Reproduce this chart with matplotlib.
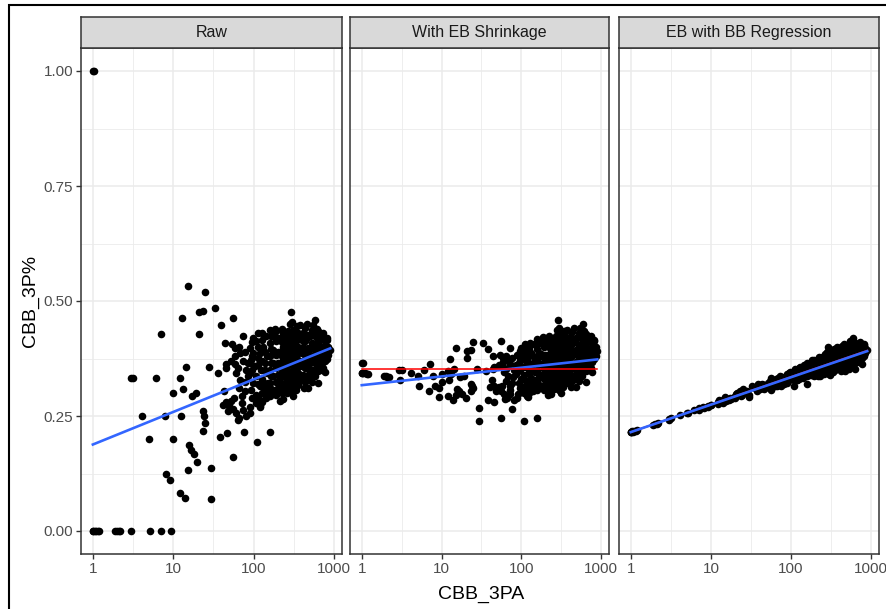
import numpy as np
import matplotlib
matplotlib.use("Agg")
import matplotlib.pyplot as plt
from matplotlib.patches import Rectangle

plt.rcParams["font.family"] = ["Liberation Sans", "DejaVu Sans"]

# fringe players: few attempts, scattered values
x_fringe = [1, 1, 1.05, 1.1, 1.15, 1.2, 1, 1.04, 1.9, 2, 2.1, 2.2, 3, 5.2, 7, 9.3,
            2.96, 3.16, 4.1, 5, 6.1, 7.1, 7.9, 8.2, 9.2, 10, 10,
            12.2, 12.3, 12.1, 12.7, 13.1, 14.4, 14.1, 15.1, 15.3, 15.8,
            16.6, 17.1, 18, 19.2, 20, 20.8, 21, 23.2, 23.7, 24,
            24.7, 23.7, 25, 28, 29.5, 29.5, 33, 36, 38, 38.7,
            42.6, 44, 44.6, 46, 54, 56, 56, 58, 76, 73,
            109, 158, 120, 214, 290, 280, 586]
raw_fringe = [0, 0, 0, 0, 0, 0, 1, 1, 0, 0, 0, 0, 0, 0, 0, 0,
              .333, .333, .25, .2, .333, .429, .25, .125, .111, .3, .2,
              .333, .25, .083, .462, .308, .357, .071, .533, .133, .188,
              .176, .294, .167, .3, .15, .429, .476, .478, .261, .25,
              .235, .217, .52, .357, .138, .069, .485, .343, .205, .447,
              .304, .409, .354, .213, .407, .161, .464, .397, .216, .425,
              .193, .215, .27, .283, .476, .45, .459]
eb_fringe = [.343, .343, .343, .343, .342, .342, .365, .366, .337, .336, .335, .335, .329, .315, .304, .291,
             .350, .350, .343, .336, .349, .362, .336, .316, .310, .342, .324,
             .347, .329, .294, .375, .341, .352, .284, .397, .296, .309,
             .304, .335, .298, .336, .289, .376, .391, .394, .320, .316,
             .310, .305, .411, .353, .267, .239, .408, .347, .284, .395,
             .328, .380, .352, .281, .382, .246, .414, .377, .266, .397,
             .239, .245, .292, .295, .459, .436, .451]
bb_fringe = [.215, .215, .216, .217, .218, .220, .216, .217, .231, .232, .233, .235, .242, .256, .263, .269,
             .244, .245, .252, .257, .263, .268, .269, .268, .272, .275, .274,
             .281, .279, .276, .285, .283, .286, .279, .292, .282, .284,
             .285, .289, .287, .292, .289, .298, .300, .304, .296, .297,
             .296, .294, .308, .304, .295, .292, .315, .310, .304, .319,
             .312, .320, .317, .308, .326, .306, .332, .328, .315, .338,
             .315, .320, .328, .336, .400, .390, .420]

# regular shooters: rows of (3PA, raw 3P%, EB 3P%, BB 3P%)
regulars = [
    (41, .275, .313, .309), (45, .28, .316, .312), (50, .271, .309, .313), (48, .26, .304, .312),
    (55, .265, .304, .315), (61, .257, .297, .316), (66, .246, .289, .316), (63, .241, .287, .315),
    (73, .264, .297, .320), (72, .278, .306, .321), (57, .289, .316, .318), (52, .282, .314, .315),
    (81, .249, .285, .320), (89, .257, .289, .322), (71, .293, .315, .323), (77, .304, .321, .326),
    (52, .369, .361, .322), (59, .362, .357, .325), (64, .354, .353, .326), (73, .369, .362, .331),
    (68, .387, .373, .332), (61, .343, .346, .324), (77, .39, .376, .335), (58, .38, .367, .326),
    (81, .351, .351, .332), (45, .362, .356, .317), (67, .329, .338, .326), (78, .325, .335, .328),
    (85, .336, .341, .331), (65, .40, .380, .331), (65, .31, .327, .322), (90, .365, .360, .337),
    (90, .27, .297, .324),
    (89, .398, .382, .341), (98, .419, .398, .346), (108, .412, .394, .348), (119, .387, .377, .347),
    (131, .401, .388, .353), (144, .423, .406, .360), (93, .372, .365, .338), (103, .358, .356, .339),
    (113, .376, .369, .344), (124, .351, .351, .342), (137, .365, .362, .347), (148, .38, .373, .352),
    (89, .343, .346, .333), (98, .322, .331, .333), (108, .336, .340, .337), (119, .315, .325, .335),
    (131, .325, .332, .339), (144, .304, .315, .337), (93, .307, .321, .330), (106, .296, .312, .330),
    (116, .286, .304, .330), (128, .3, .313, .334), (141, .289, .304, .333), (119, .271, .293, .328),
    (108, .278, .299, .328), (150, .322, .329, .341), (85, .365, .360, .335), (128, .43, .409, .357),
    (148, .343, .345, .345), (98, .387, .376, .342),
    (95, .41, .391, .344), (95, .35, .350, .336), (95, .29, .310, .328), (95, .38, .371, .340),
    (112, .40, .386, .348), (112, .36, .357, .341), (112, .32, .329, .335), (112, .43, .407, .352),
    (126, .415, .398, .354), (126, .37, .365, .346), (126, .33, .343, .339), (126, .28, .299, .330),
    (139, .39, .380, .352), (139, .35, .350, .345), (139, .31, .320, .337),
    (158, .437, .418, .366), (158, .409, .396, .360), (158, .38, .374, .354), (158, .351, .351, .348),
    (158, .322, .328, .342), (158, .293, .306, .336),
    (166, .423, .408, .364), (166, .395, .386, .358), (166, .366, .363, .352), (166, .337, .340, .346),
    (166, .308, .317, .339),
    (175, .423, .408, .366), (175, .394, .385, .360), (175, .365, .362, .353), (175, .336, .339, .347),
    (175, .307, .316, .340), (185, .439, .422, .372),
    (192, .434, .418, .372), (192, .412, .400, .367), (192, .383, .377, .360), (192, .354, .353, .352),
    (192, .325, .330, .345), (192, .296, .306, .338),
    (200, .42, .407, .370), (200, .39, .383, .362), (200, .365, .362, .356), (200, .34, .342, .350),
    (200, .31, .318, .342),
    (211, .419, .407, .371), (211, .39, .383, .364), (211, .362, .360, .356), (211, .333, .336, .349),
    (211, .304, .312, .341),
    (222, .44, .425, .379), (222, .41, .400, .370), (222, .38, .375, .362), (222, .35, .350, .354),
    (222, .32, .325, .346), (222, .30, .309, .341),
    (233, .43, .417, .377), (233, .401, .393, .369), (233, .372, .369, .361), (233, .343, .344, .353),
    (233, .315, .321, .345), (233, .286, .297, .337),
    (244, .425, .413, .378), (244, .395, .388, .369), (244, .365, .363, .360), (244, .335, .338, .352),
    (244, .305, .312, .343),
    (256, .416, .406, .376), (256, .387, .382, .368), (256, .358, .357, .359), (256, .329, .332, .350),
    (256, .3, .308, .342),
    (268, .435, .423, .384), (268, .405, .397, .374), (268, .375, .372, .365), (268, .345, .346, .356),
    (268, .315, .320, .347),
    (282, .427, .417, .383), (282, .398, .392, .374), (282, .369, .367, .364), (282, .34, .342, .355),
    (282, .311, .317, .346),
    (296, .42, .411, .382), (296, .39, .385, .372), (296, .36, .359, .362), (296, .33, .333, .352),
    (296, .30, .307, .342),
    (310, .437, .426, .389), (310, .409, .402, .380), (310, .38, .376, .370), (310, .351, .351, .360),
    (310, .322, .326, .350), (310, .293, .300, .340),
    (322, .43, .420, .388), (322, .40, .394, .378), (322, .37, .368, .367), (322, .34, .341, .357),
    (322, .31, .315, .346),
    (335, .423, .415, .387), (335, .394, .389, .376), (335, .365, .363, .366), (335, .336, .338, .356),
    (335, .307, .312, .345),
    (346, .445, .434, .396), (346, .415, .408, .385), (346, .385, .381, .374), (346, .355, .355, .363),
    (346, .325, .328, .352),
    (358, .43, .421, .391), (358, .401, .395, .381), (358, .372, .370, .370), (358, .343, .344, .359),
    (358, .318, .322, .350),
    (375, .42, .413, .389), (375, .39, .386, .377), (375, .36, .359, .366), (375, .33, .332, .354),
    (394, .416, .409, .389), (394, .387, .383, .377), (394, .358, .357, .366), (394, .329, .331, .354),
    (412, .43, .422, .396), (412, .40, .395, .383), (412, .37, .368, .371), (412, .34, .341, .359),
    (434, .441, .433, .402), (434, .412, .406, .390), (434, .383, .380, .377), (434, .354, .354, .365),
    (434, .325, .327, .353),
    (455, .42, .414, .394), (455, .39, .386, .381), (455, .36, .359, .368), (455, .33, .332, .355),
    (455, .45, .441, .407),
    (478, .427, .420, .398), (478, .398, .394, .386), (478, .369, .367, .373), (478, .34, .341, .360),
    (478, .311, .314, .347),
    (502, .425, .419, .399), (502, .395, .391, .385), (502, .365, .364, .372), (502, .35, .350, .365),
    (526, .437, .430, .406), (526, .409, .404, .393), (526, .38, .378, .379), (526, .351, .351, .366),
    (526, .325, .327, .353),
    (552, .43, .424, .404), (552, .40, .396, .389), (552, .37, .369, .375), (552, .34, .341, .361),
    (579, .423, .418, .401), (579, .394, .391, .387), (579, .365, .364, .373), (579, .336, .337, .359),
    (607, .44, .434, .411), (607, .41, .406, .396), (607, .38, .378, .381), (607, .355, .355, .368),
    (637, .434, .429, .409), (637, .405, .401, .394), (637, .376, .374, .380), (637, .347, .347, .365),
    (668, .415, .411, .401), (668, .385, .383, .385), (668, .36, .359, .372),
    (701, .423, .419, .406), (701, .394, .391, .390), (701, .365, .364, .375), (701, .351, .351, .367),
    (735, .43, .425, .411), (735, .40, .397, .394), (735, .375, .374, .380), (735, .355, .355, .369),
    (772, .412, .409, .402), (772, .387, .385, .388), (772, .369, .368, .377),
    (810, .42, .416, .407), (810, .395, .393, .393), (810, .375, .374, .381),
    (849, .401, .399, .397), (849, .383, .381, .386), (892, .394, .392, .393),
    (376, .448, .438, .400), (550, .448, .441, .412), (500, .336, .337, .358), (637, .322, .324, .352),
    (420, .31, .314, .347), (300, .455, .441, .394), (760, .345, .345, .364), (820, .415, .412, .404),
]

x_3pa = np.array(x_fringe + [r[0] for r in regulars], dtype=float)
raw_pct = np.array(raw_fringe + [r[1] for r in regulars])
eb_pct = np.array(eb_fringe + [r[2] for r in regulars])
bb_pct = np.array(bb_fringe + [r[3] for r in regulars])

panel_titles = ["Raw", "With EB Shrinkage", "EB with BB Regression"]
# fitted line values at the smallest and largest 3PA
raw_fit = [0.188, 0.397]
eb_fit = [0.317, 0.373]
eb_prior = [0.352, 0.352]
bb_fit = [0.215, 0.391]
bb_prior = [0.215, 0.392]

W, H = 886, 609
fig = plt.figure(figsize=(W / 100, H / 100), dpi=100)
lefts = [81, 350, 619]
widths = [261, 259, 260]
top, bottom, strip_top = 48, 554, 17

lx = np.log10(x_3pa)
pad = 0.05 * (lx.max() - lx.min())
xlim = (10 ** (lx.min() - pad), 10 ** (lx.max() + pad))
fit_x = [x_3pa.min(), x_3pa.max()]

series = [raw_pct, eb_pct, bb_pct]
fits = [raw_fit, eb_fit, bb_fit]
priors = [None, eb_prior, bb_prior]
edge = "#333333"

for i in range(3):
    ax = fig.add_axes([lefts[i] / W, 1 - bottom / H, widths[i] / W, (bottom - top) / H])
    ax.set_xscale("log")
    ax.set_xlim(*xlim)
    ax.set_ylim(-0.05, 1.05)
    ax.set_xticks([1, 10, 100, 1000])
    ax.set_xticklabels(["1", "10", "100", "1000"])
    ax.set_xticks([10 ** 0.5, 10 ** 1.5, 10 ** 2.5], minor=True)
    ax.set_yticks([0, 0.25, 0.5, 0.75, 1.0])
    ax.set_yticks([0.125, 0.375, 0.625, 0.875], minor=True)
    ax.grid(which="major", color="#EBEBEB", lw=1.1, zorder=0)
    ax.grid(which="minor", color="#EBEBEB", lw=0.6, zorder=0)
    ax.set_axisbelow(True)
    ax.tick_params(which="minor", length=0, labelbottom=False, labelleft=False)
    ax.tick_params(which="major", length=3.5, width=1, color=edge, labelcolor="#4D4D4D",
                   labelsize=11, pad=2)
    if i == 0:
        ax.set_yticklabels(["0.00", "0.25", "0.50", "0.75", "1.00"])
    else:
        ax.tick_params(axis="y", which="major", length=0, labelleft=False)
    for s in ax.spines.values():
        s.set_color(edge)
        s.set_linewidth(1.1)

    ax.scatter(x_3pa, series[i], s=30, color="black", linewidths=0, zorder=2)
    if i == 2:
        ax.plot(fit_x, priors[i], color="red", lw=1.3, zorder=3)
        ax.plot(fit_x, fits[i], color="#3366FF", lw=1.9, zorder=4)
    else:
        ax.plot(fit_x, fits[i], color="#3366FF", lw=1.9, zorder=3)
        if priors[i] is not None:
            ax.plot(fit_x, priors[i], color="red", lw=1.1, zorder=4)

    sax = fig.add_axes([lefts[i] / W, 1 - top / H, widths[i] / W, (top - strip_top) / H])
    sax.set_facecolor("#D9D9D9")
    sax.set_xticks([])
    sax.set_yticks([])
    for s in sax.spines.values():
        s.set_color(edge)
        s.set_linewidth(1.1)
    sax.text(0.5, 0.5, panel_titles[i], ha="center", va="center", fontsize=11.5,
             color="#1A1A1A", transform=sax.transAxes)

fig.text(30 / W, 1 - 301 / H, "CBB_3P%", rotation=90, ha="center", va="center", fontsize=14)
fig.text(481 / W, 1 - 594 / H, "CBB_3PA", ha="center", va="center", fontsize=14)

fig.add_artist(Rectangle((9 / W, -0.1), 1.2, 1.1 - 5 / H, transform=fig.transFigure,
                         fill=False, ec="black", lw=1.5))

fig.savefig("out.png", dpi=100)
